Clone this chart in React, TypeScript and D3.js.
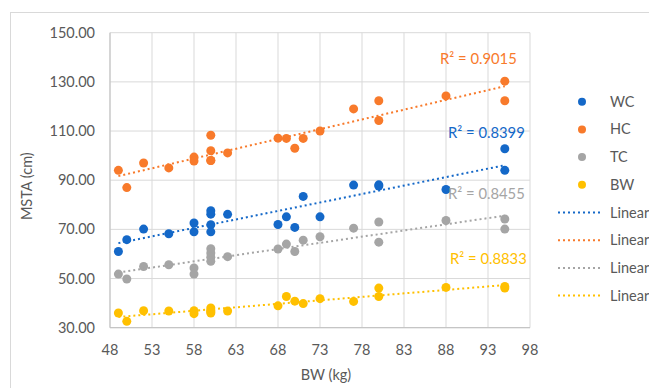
import React from "react";
import { scaleLinear, line, range } from "d3";

// BW (kg) for each sample
const bw = [49, 50, 52, 55, 58, 58, 60, 60, 60, 60, 62, 68, 69, 70, 71, 73, 77, 80, 80, 88, 95, 95];

const wc = [61.0, 65.8, 70.1, 68.2, 72.6, 69.0, 77.6, 76.2, 71.9, 69.0, 76.1, 72.0, 75.1, 70.8, 83.4, 75.1, 88.0, 88.1, 87.6, 86.2, 102.8, 94.0];
const hc = [94.0, 87.0, 97.0, 95.0, 99.4, 97.8, 108.3, 102.0, 98.0, 98.0, 101.1, 107.1, 107.0, 103.0, 107.0, 110.0, 119.0, 122.3, 114.3, 124.3, 130.3, 122.3];
const tc = [51.8, 49.8, 54.9, 55.6, 54.3, 51.8, 62.1, 60.4, 58.7, 57.0, 58.9, 62.0, 64.0, 61.0, 65.6, 67.0, 70.5, 73.0, 64.8, 73.6, 74.2, 70.1];
const bwSeries = [36.0, 32.6, 36.9, 36.8, 36.9, 35.7, 38.0, 36.0, 37.0, 36.5, 36.8, 38.9, 42.7, 40.8, 39.8, 41.8, 40.7, 46.1, 42.7, 46.4, 46.8, 46.1];

const seriesNames = ["WC", "HC", "TC", "BW"];
const seriesValues = [wc, hc, tc, bwSeries];
const r2Labels = ["R² = 0.8399", "R² = 0.9015", "R² = 0.8455", "R² = 0.8833"];

const xTicks = range(48, 99, 5);
const yTicks = range(30, 151, 20);

const colors = ["#1468C8", "#F87A2B", "#A5A5A5", "#FFC000"];
// label offsets from the trendline end (px)
const labelOffsets = [
  { dx: 20, dy: -32 },
  { dx: 12, dy: -27 },
  { dx: 20, dy: -22 },
  { dx: 22, dy: -26 },
];

const W = 649;
const H = 388;
const plot = { left: 110, right: 530, top: 32.7, bottom: 327.7 };
const font = "Lato, 'Open Sans', sans-serif";
const textColor = "#595959";
const gridColor = "#D9D9D9";

function fit(xs: number[], ys: number[]) {
  const n = xs.length;
  const mx = xs.reduce((a, b) => a + b, 0) / n;
  const my = ys.reduce((a, b) => a + b, 0) / n;
  let sxy = 0;
  let sxx = 0;
  xs.forEach((x, i) => {
    sxy += (x - mx) * (ys[i] - my);
    sxx += (x - mx) * (x - mx);
  });
  const slope = sxy / sxx;
  const intercept = my - slope * mx;
  return (x: number) => intercept + slope * x;
}

export default function App() {
  const x = scaleLinear().domain([48, 98]).range([plot.left, plot.right]);
  const y = scaleLinear().domain([30, 150]).range([plot.bottom, plot.top]);

  const xMin = Math.min(...bw);
  const xMax = Math.max(...bw);
  const lineGen = line<number[]>()
    .x((d) => x(d[0]))
    .y((d) => y(d[1]));

  const trends = seriesValues.map((vals) => {
    const f = fit(bw, vals);
    return [
      [xMin, f(xMin)],
      [xMax, f(xMax)],
    ];
  });

  const legendX = 582;
  const legendTextX = 610;
  const legendY0 = 101.7;
  const legendStep = 27.7;

  return (
    <div style={{ position: "fixed", left: 0, top: 0 }}>
      <svg width={W} height={H} style={{ display: "block", background: "#fff" }}>
        <rect x={10.5} y={12.5} width={660} height={400} fill="none" stroke={gridColor} />

        {/* gridlines */}
        {yTicks.map((t) => (
          <line key={"gy" + t} x1={plot.left} x2={plot.right} y1={y(t)} y2={y(t)} stroke={gridColor} strokeWidth={1} />
        ))}
        {xTicks.map((t) => (
          <line key={"gx" + t} x1={x(t)} x2={x(t)} y1={plot.top} y2={plot.bottom} stroke={gridColor} strokeWidth={1} />
        ))}
        <line x1={plot.left} x2={plot.left} y1={plot.top} y2={plot.bottom} stroke="#BFBFBF" />
        <line x1={plot.left} x2={plot.right} y1={plot.bottom} y2={plot.bottom} stroke="#BFBFBF" />

        {/* tick labels */}
        {yTicks.map((t) => (
          <text key={"ty" + t} x={95} y={y(t)} dy="0.35em" textAnchor="end" fontFamily={font} fontSize={14.5} fill={textColor}>
            {t.toFixed(2)}
          </text>
        ))}
        {xTicks.map((t) => (
          <text key={"tx" + t} x={x(t)} y={350} dy="0.35em" textAnchor="middle" fontFamily={font} fontSize={14.5} fill={textColor}>
            {t}
          </text>
        ))}

        {/* axis titles */}
        <text x={326} y={375} dy="0.35em" textAnchor="middle" fontFamily={font} fontSize={14.5} fill={textColor}>
          BW (kg)
        </text>
        <text
          transform={`translate(27,${(plot.top + plot.bottom) / 2 + 6}) rotate(-90)`}
          dy="0.35em"
          textAnchor="middle"
          fontFamily={font}
          fontSize={14.5}
          fill={textColor}
        >
          MSTA (cm)
        </text>

        {/* points */}
        {seriesValues.map((vals, si) =>
          vals.map((v, i) => (
            <circle key={`p${si}-${i}`} cx={x(bw[i])} cy={y(v)} r={4.5} fill={colors[si]} />
          ))
        )}

        {/* trendlines */}
        {trends.map((pts, si) => (
          <path
            key={"tr" + si}
            d={lineGen(pts) || ""}
            fill="none"
            stroke={colors[si]}
            strokeWidth={2}
            strokeDasharray="2 3"
          />
        ))}

        {/* R² labels */}
        {trends.map((pts, si) => (
          <text
            key={"r2" + si}
            x={x(pts[1][0]) + labelOffsets[si].dx}
            y={y(pts[1][1]) + labelOffsets[si].dy}
            dy="0.35em"
            textAnchor="end"
            fontFamily={font}
            fontSize={14.8}
            fill={colors[si]}
          >
            {r2Labels[si]}
          </text>
        ))}

        {/* legend */}
        {seriesNames.map((name, i) => (
          <g key={"lg" + i} transform={`translate(0,${legendY0 + i * legendStep})`}>
            <circle cx={legendX} cy={0} r={4} fill={colors[i]} />
            <text x={legendTextX} y={0} dy="0.35em" fontFamily={font} fontSize={14.5} fill={textColor}>
              {name}
            </text>
          </g>
        ))}
        {seriesNames.map((name, i) => (
          <g key={"ll" + i} transform={`translate(0,${legendY0 + (i + 4) * legendStep})`}>
            <line x1={558} x2={602} y1={0} y2={0} stroke={colors[i]} strokeWidth={2} strokeDasharray="2 3" />
            <text x={legendTextX} y={0} dy="0.35em" fontFamily={font} fontSize={14.5} fill={textColor}>
              Linear
            </text>
          </g>
        ))}
      </svg>
    </div>
  );
}
